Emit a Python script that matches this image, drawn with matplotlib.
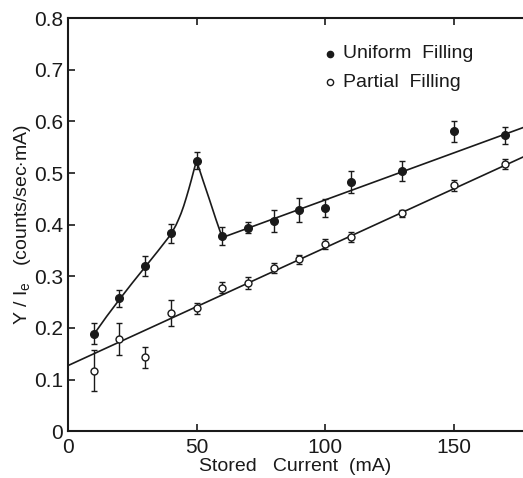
import matplotlib
matplotlib.use("Agg")
import matplotlib.pyplot as plt

plt.rcParams['font.family'] = ['Liberation Sans', 'DejaVu Sans']
plt.rcParams['mathtext.fontset'] = 'custom'
plt.rcParams['mathtext.rm'] = 'Liberation Sans'

# stored current (mA)
current = [10, 20, 30, 40, 50, 60, 70, 80, 90, 100, 110, 130, 150, 170]

# uniform filling (filled dots)
uniform = [0.189, 0.257, 0.320, 0.383, 0.524, 0.378, 0.394, 0.407, 0.429, 0.432, 0.482, 0.504, 0.581, 0.573]
uniform_err = [0.020, 0.017, 0.019, 0.018, 0.016, 0.018, 0.011, 0.022, 0.023, 0.018, 0.021, 0.020, 0.020, 0.016]

# partial filling (open dots)
partial = [0.117, 0.179, 0.143, 0.229, 0.238, 0.278, 0.287, 0.316, 0.333, 0.362, 0.376, 0.422, 0.476, 0.517]
partial_err = [0.040, 0.031, 0.020, 0.026, 0.011, 0.011, 0.012, 0.010, 0.009, 0.010, 0.010, 0.007, 0.010, 0.010]

# hand drawn curve through the uniform points below 60 mA
curve_x = [10, 15, 20, 25, 30, 35, 40, 41, 42, 43, 44, 45, 46, 47, 48, 49, 50,
           52.5, 55, 57.5, 60]
curve_y = [0.187, 0.222, 0.255, 0.287, 0.318, 0.349, 0.381, 0.390, 0.399, 0.410,
           0.422, 0.436, 0.452, 0.469, 0.487, 0.506, 0.524,
           0.486, 0.449, 0.411, 0.375]

# straight fit lines: (start, end)
uniform_line_x = [60, 177]
uniform_line_y = [0.375, 0.588]
partial_line_x = [0, 177]
partial_line_y = [0.127, 0.531]

ink = "#1a1a1a"

fig = plt.figure(figsize=(5.23, 4.78), dpi=100)
ax = fig.add_axes([0.130, 0.098, 0.870, 0.864])

ax.plot(curve_x, curve_y, color=ink, lw=1.2)
ax.plot(uniform_line_x, uniform_line_y, color=ink, lw=1.2)
ax.plot(partial_line_x, partial_line_y, color=ink, lw=1.2)

ax.errorbar(current, uniform, yerr=uniform_err, fmt="o", color=ink, ms=5.5,
            elinewidth=1.0, capsize=2.5, capthick=1.0, zorder=3)
ax.errorbar(current, partial, yerr=partial_err, fmt="o", color=ink, mfc="white",
            mec=ink, mew=1.0, ms=5, elinewidth=1.0, capsize=2.5, capthick=1.0, zorder=3)

# legend drawn as plain marks + text
ax.plot([102], [0.731], "o", color=ink, ms=4.5)
ax.text(107, 0.731, "Uniform  Filling", fontsize=14, va="center", color=ink)
ax.plot([102], [0.676], "o", color=ink, mfc="white", ms=4.5, mew=1.0)
ax.text(107, 0.676, "Partial  Filling", fontsize=14, va="center", color=ink)

ax.set_xlim(0, 177)
ax.set_ylim(0, 0.8)
ax.set_xticks([0, 50, 100, 150])
ax.set_yticks([0, 0.1, 0.2, 0.3, 0.4, 0.5, 0.6, 0.7, 0.8])
ax.set_yticklabels(["0", "0.1", "0.2", "0.3", "0.4", "0.5", "0.6", "0.7", "0.8"])
ax.tick_params(direction="in", length=5, width=1.2, labelsize=15, colors=ink,
               top=True, right=False)
ax.tick_params(axis="x", pad=5)
for s in ["left", "bottom", "top"]:
    ax.spines[s].set_linewidth(1.5)
    ax.spines[s].set_color(ink)
ax.spines["right"].set_visible(False)

ax.set_xlabel("Stored   Current  (mA)", fontsize=14, color=ink, labelpad=1)
ax.set_ylabel(r"Y / I$_\mathregular{e}$   (counts/sec$\cdot$mA)", fontsize=14, color=ink, labelpad=1)

fig.savefig("out.png", dpi=100)
